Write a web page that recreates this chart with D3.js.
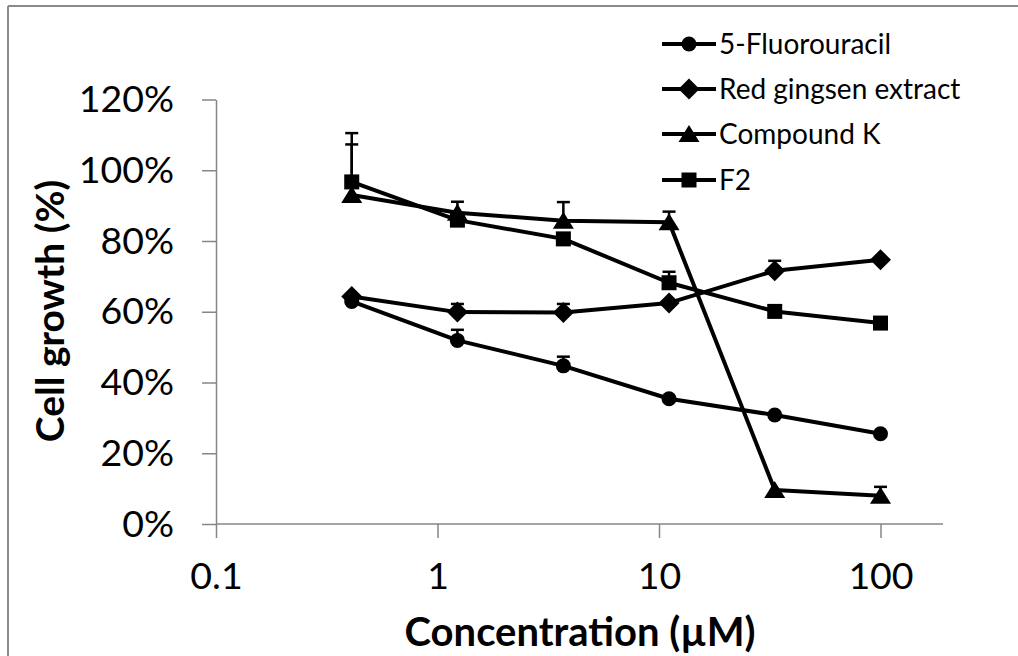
<!DOCTYPE html>
<html>
<head>
<meta charset="utf-8">
<script src="https://cdn.jsdelivr.net/npm/d3@7/dist/d3.min.js"></script>
<style>
  html, body { margin: 0; padding: 0; background: #fff; }
  svg { display: block; font-family: Lato, "Open Sans", sans-serif; }
</style>
</head>
<body>
<svg id="chart" width="1018" height="656"></svg>
<script>
// ---- data ----
const concentrations = [0.41, 1.23, 3.7, 11.1, 33.3, 100];
const seriesNames = ["5-Fluorouracil", "Red gingsen extract", "Compound K", "F2"];
const fluorouracil = [0.629, 0.519, 0.447, 0.354, 0.308, 0.255];
const fluorouracilErr = [0, 0.030, 0.026, 0, 0, 0];
const redGinseng = [0.643, 0.599, 0.598, 0.625, 0.716, 0.747];
const redGinsengErr = [0, 0.023, 0.024, 0, 0.028, 0];
const compoundK = [0.930, 0.880, 0.857, 0.853, 0.096, 0.080];
const compoundKErr = [0.143, 0.031, 0.053, 0.030, 0, 0.025];
const f2 = [0.967, 0.859, 0.806, 0.682, 0.601, 0.568];
const f2Err = [0.138, 0, 0, 0.031, 0, 0];
const xTicks = [0.1, 1, 10, 100];
const xTickLabels = ["0.1", "1", "10", "100"];
const yTicks = [0, 0.2, 0.4, 0.6, 0.8, 1.0, 1.2];
const yTickLabels = ["0%", "20%", "40%", "60%", "80%", "100%", "120%"];
const markerTypes = ["circle", "diamond", "triangle", "square"];

const seriesValues = [fluorouracil, redGinseng, compoundK, f2];
const seriesErrs = [fluorouracilErr, redGinsengErr, compoundKErr, f2Err];

// ---- layout ----
const svg = d3.select("#chart");
const axisColor = "#868686";
const x = d3.scaleLog().domain([0.1, 100]).range([216, 880.5]);
const y = d3.scaleLinear().domain([0, 1.2]).range([524, 99.5]);
const xAxisEnd = 943;

// outer border (top & left)
svg.append("line").attr("x1", 8).attr("x2", 1018).attr("y1", 6).attr("y2", 6)
  .attr("stroke", "#8a8a8a").attr("stroke-width", 2);
svg.append("line").attr("x1", 8).attr("x2", 8).attr("y1", 6).attr("y2", 656)
  .attr("stroke", "#8a8a8a").attr("stroke-width", 2);

// y axis
const yAxis = svg.append("g").attr("transform", `translate(${x(0.1)},0)`)
  .call(d3.axisLeft(y).tickValues(yTicks).tickFormat((d, i) => yTickLabels[i]).tickSize(14).tickSizeOuter(0).tickPadding(28));
yAxis.select(".domain").attr("stroke", axisColor).attr("stroke-width", 1.5);
yAxis.selectAll(".tick line").attr("stroke", axisColor).attr("stroke-width", 1.5);
yAxis.selectAll(".tick text").attr("font-size", 37.5).attr("fill", "#000").attr("font-family", "Lato");

// x axis
const xAxis = svg.append("g").attr("transform", `translate(0,${y(0)})`)
  .call(d3.axisBottom(x).tickValues(xTicks).tickFormat((d, i) => xTickLabels[i]).tickSize(14).tickSizeOuter(0).tickPadding(24));
xAxis.select(".domain").remove();
xAxis.append("line").attr("x1", x(0.1)).attr("x2", xAxisEnd).attr("y1", 0).attr("y2", 0)
  .attr("stroke", axisColor).attr("stroke-width", 1.5);
xAxis.selectAll(".tick line").attr("stroke", axisColor).attr("stroke-width", 1.5);
xAxis.selectAll(".tick text").attr("font-size", 37.5).attr("fill", "#000").attr("font-family", "Lato");

// axis titles
svg.append("text").attr("transform", "translate(64,311) rotate(-90)")
  .attr("text-anchor", "middle").attr("font-size", 39).attr("font-weight", "bold")
  .attr("fill", "#000").text("Cell growth (%)");
svg.append("text").attr("x", 580).attr("y", 646)
  .attr("text-anchor", "middle").attr("font-size", 40).attr("font-weight", "bold")
  .attr("fill", "#000").text("Concentration (\u00b5M)");

// marker drawing
function drawMarker(g, type, cx, cy) {
  if (type === "circle") {
    g.append("circle").attr("cx", cx).attr("cy", cy).attr("r", 7.5).attr("fill", "#000");
  } else if (type === "diamond") {
    g.append("path").attr("d", `M${cx},${cy-10.5}L${cx+10.5},${cy}L${cx},${cy+10.5}L${cx-10.5},${cy}Z`).attr("fill", "#000");
  } else if (type === "triangle") {
    g.append("path").attr("d", `M${cx},${cy-9}L${cx+10.5},${cy+8}L${cx-10.5},${cy+8}Z`).attr("fill", "#000");
  } else {
    g.append("rect").attr("x", cx-7.5).attr("y", cy-7.5).attr("width", 15).attr("height", 15).attr("fill", "#000");
  }
}

const line = d3.line().x((d, i) => x(concentrations[i])).y(d => y(d));
const plot = svg.append("g");

// lines
seriesValues.forEach(vals => {
  plot.append("path").attr("d", line(vals)).attr("fill", "none")
    .attr("stroke", "#000").attr("stroke-width", 4).attr("stroke-linejoin", "round");
});
// error bars (upper)
seriesValues.forEach((vals, s) => {
  vals.forEach((v, i) => {
    const e = seriesErrs[s][i];
    if (!e) return;
    const cx = x(concentrations[i]);
    plot.append("line").attr("x1", cx).attr("x2", cx).attr("y1", y(v)).attr("y2", y(v + e))
      .attr("stroke", "#000").attr("stroke-width", 2.5);
    plot.append("line").attr("x1", cx - 6.5).attr("x2", cx + 6.5).attr("y1", y(v + e)).attr("y2", y(v + e))
      .attr("stroke", "#000").attr("stroke-width", 2.5);
  });
});
// markers
seriesValues.forEach((vals, s) => {
  vals.forEach((v, i) => drawMarker(plot, markerTypes[s], x(concentrations[i]), y(v)));
});

// legend
const legendRows = [44, 89, 134, 180];
const legend = svg.append("g");
seriesNames.forEach((name, s) => {
  const ly = legendRows[s];
  legend.append("line").attr("x1", 662).attr("x2", 716).attr("y1", ly).attr("y2", ly)
    .attr("stroke", "#000").attr("stroke-width", 4);
  drawMarker(legend, markerTypes[s], 689, ly);
  legend.append("text").attr("x", 719).attr("y", ly).attr("dy", "0.36em")
    .attr("font-size", 28).attr("fill", "#000").text(name);
});
</script>
</body>
</html>
